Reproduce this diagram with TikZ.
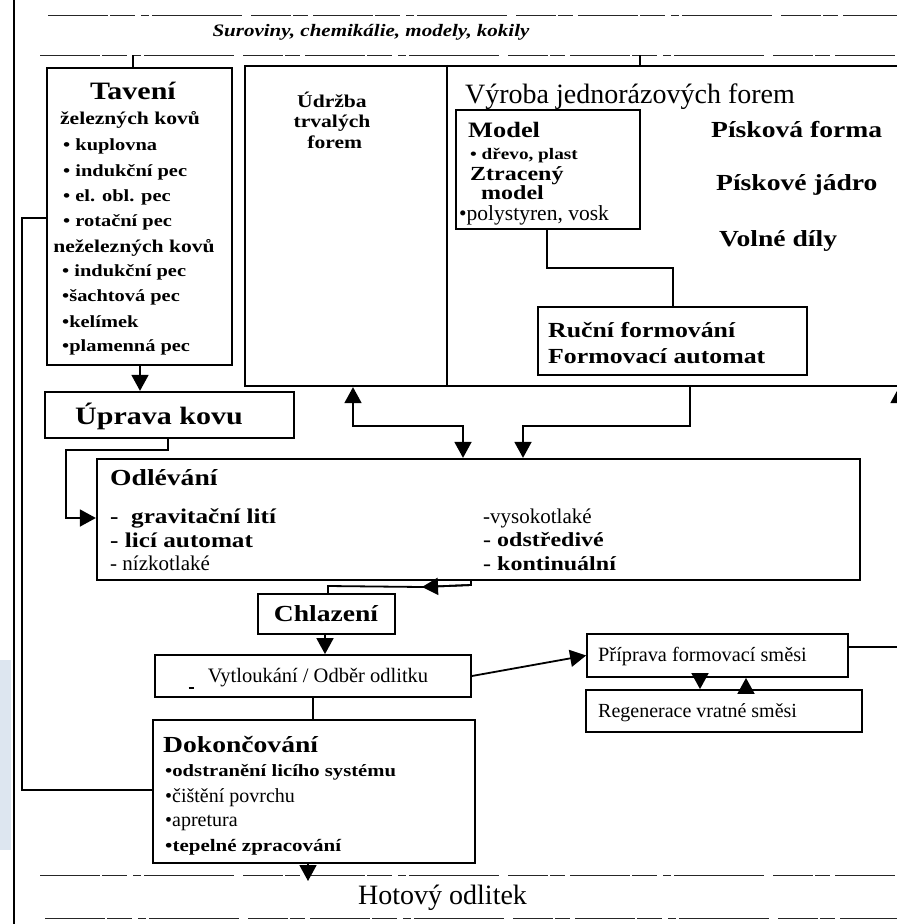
\documentclass[tikz,border=0pt]{standalone}
\usepackage{fontspec}
\setmainfont{Liberation Serif}
\newfontfamily\wb{Liberation Serif}[FakeStretch=1.2]
\usetikzlibrary{arrows.meta}
\newcommand\setfs[1]{\fontsize{#1}{#1}\selectfont}
\newcommand\mkbox[6][]{\node[box,#1, minimum width={(#5)-(#3)}, minimum height={(#6)-(#4)}] (#2) at ({((#3)+(#5))/2},{((#4)+(#6))/2}) {};}
\tikzset{
  box/.style={draw, line width=2.3pt, inner sep=0pt, rectangle},
  thinbox/.style={line width=1.8pt},
  conn/.style={line width=1.8pt},
  arr/.style={conn, -{Triangle[width=17pt,length=16pt]}},
  dline/.style={line width=0.9pt, black!85, dash pattern=on 60pt off 2pt on 25pt off 6pt on 8pt off 3pt on 90pt off 9pt on 40pt off 2pt on 15pt off 5pt},
  txt/.style={inner sep=0pt, anchor=west},
  ctxt/.style={inner sep=0pt},
  bw/.style={font={\wb\bfseries\setfs{#1}}},
  rg/.style={font={\setfs{#1}}},
}
\begin{document}
\begin{tikzpicture}[x=1pt,y=-1pt]
\useasboundingbox (0,0) rectangle (897,924);
\fill[white] (0,0) rectangle (897,924);
% scan strip and margin lines
\fill[fill={rgb,255:red,221;green,230;blue,240}] (0,660) rectangle (11,850);
\draw[line width=2pt] (14,0) -- (14,924);
\draw[dline] (48,15) -- (897,15);
\draw[dline] (40,55) -- (897,55);
\draw[dline] (40,875) -- (897,875);
\draw[dline] (45,918) -- (897,918);

% boxes
\mkbox{tav}{47}{68}{232}{365}
\mkbox{big}{245}{66}{910}{386}
\mkbox{model}{456}{110}{640}{229}
\mkbox{rucni}{538}{307}{807}{375}
\mkbox{uprava}{45}{392}{294}{438}
\mkbox{odl}{97}{459}{860}{580}
\mkbox{chl}{258}{594}{395}{634}
\mkbox[thinbox]{vyt}{155}{655}{471}{697}
\mkbox[thinbox]{prip}{587}{634}{848}{677}
\mkbox[thinbox]{reg}{586}{690}{862}{732}
\mkbox{dok}{153}{720}{475}{863}

% texts
\node[ctxt, font={\wb\bfseries\itshape\setfs{17.5}}] (sur) at (371,32) {Suroviny, chemikálie, modely, kokily};

\node[ctxt, bw=25] (tTav) at (133,91) {Tavení};
\node[ctxt, bw=18] (tZel) at (130,120) {železných kovů};
\node[txt, bw=17] (t1) at (63,146) {• kuplovna};
\node[txt, bw=17] (t2) at (63,172) {• indukční pec};
\node[txt, bw=17] (t3) at (63,197) {• el. obl. pec};
\node[txt, bw=17] (t4) at (63,222) {• rotační pec};
\node[ctxt, bw=18] (tNez) at (134,248) {neželezných kovů};
\node[txt, bw=17] (t5) at (62,272) {• indukční pec};
\node[txt, bw=17] (t6) at (62,297) {•šachtová pec};
\node[txt, bw=17] (t7) at (62,322) {•kelímek};
\node[txt, bw=17] (t8) at (62,347) {•plamenná pec};

\node[ctxt, align=center, font={\wb\bfseries\fontsize{18}{20.5}\selectfont}] (udr) at (332,120) {Údržba\\trvalých\\\ forem};

\node[txt, rg=28] (vyr) at (465,97) {Výroba jednorázových forem};
\node[txt, bw=22] (tMod) at (468,130) {Model};
\node[txt, bw=16] (tDrevo) at (470,156) {• dřevo, plast};
\node[inner sep=0pt, anchor=north west, align=left, font={\wb\bfseries\fontsize{20}{15}\selectfont}] (tZtr) at (470,166) {Ztracený\\\hspace{11pt}model};
\node[txt, rg=21.5] (tPoly) at (459,215) {•polystyren, vosk};

\node[txt, bw=23] (tPf) at (711,130) {Písková forma};
\node[txt, bw=23] (tPj) at (716,185) {Pískové jádro};
\node[txt, bw=23] (tVd) at (719,241) {Volné díly};

\node[txt, bw=21.5] (tRuc) at (548,330) {Ruční formování};
\node[txt, bw=21.5] (tFa) at (548,356) {Formovací automat};

\node[txt, bw=25] (tUpr) at (75,416) {Úprava kovu};

\node[txt, bw=23] (tOdl) at (110,478) {Odlévání};
\node[txt, bw=21] (o1t) at (110,518) {-\ \ gravitační lití};
\node[txt, bw=21] (o2t) at (110,540) {- licí automat};
\node[txt, rg=21] (o3t) at (110,563) {- nízkotlaké};
\node[txt, rg=21] (o4t) at (483,518) {-vysokotlaké};
\node[txt, bw=20] (o5t) at (483,540) {- odstředivé};
\node[txt, bw=20] (o6t) at (483,564) {- kontinuální};

\node[ctxt, bw=23] (tChl) at (326,614) {Chlazení};
\node[ctxt, rg=20.5] (tVyt) at (318,678) {Vytloukání / Odběr odlitku};
\node[inner sep=0pt] (us) at (191,688) {\rule{5pt}{1.5pt}};
\node[txt, rg=20.3] (tPrip) at (598,657) {Příprava formovací směsi};
\node[txt, rg=20] (tReg) at (598,713) {Regenerace vratné směsi};

\node[txt, bw=23] (tDok) at (163,744) {Dokončování};
\node[txt, bw=17.2] (d1) at (165,772) {•odstranění licího systému};
\node[txt, rg=20] (d2) at (165,798) {•čištění povrchu};
\node[txt, rg=20] (d3) at (165,823) {•apretura};
\node[txt, bw=17.5] (d4) at (165,847) {•tepelné zpracování};

\node[txt, rg=28] (hot) at (358,898) {Hotový odlitek};

% connectors
\coordinate (topL) at (133,55);
\coordinate (topR) at (640,55);
\draw[conn] (topL) -- (tav.north -| topL);
\draw[conn] (topR) -- (big.north -| topR);
\coordinate (div) at (447,0);
\draw[line width=2.3pt] (big.north -| div) -- (big.south -| div);

\coordinate (m1) at (547,268);
\coordinate (m2) at (673,268);
\draw[conn] (model.south -| m1) -- (m1) -- (m2) -- (rucni.north -| m2);

\coordinate (c1) at (140,0);
\draw[arr] (tav.south -| c1) -- (uprava.north -| c1);

\coordinate (u1) at (168,450);
\coordinate (u2) at (66,450);
\coordinate (u3) at (66,518);
\draw[arr] (uprava.south -| u1) -- (u1) -- (u2) -- (u3) -- (odl.west |- u3);

\coordinate (a1) at (353,426);
\coordinate (a2) at (463,426);
\draw[conn, {Triangle[width=17pt,length=16pt]}-{Triangle[width=17pt,length=16pt]}] (big.south -| a1) -- (a1) -- (a2) -- (odl.north -| a2);

\coordinate (b1) at (690,426);
\coordinate (b2) at (523,426);
\draw[arr] (big.south -| b1) -- (b1) -- (b2) -- (odl.north -| b2);

\coordinate (o1) at (471,585);
\coordinate (o2) at (422,587);
\coordinate (o3) at (328,586);
\draw[conn] (odl.south -| o1) -- (o1) -- (o2) -- (o3) -- (chl.north -| o3);
\draw[arr] (o1) -- (o2);

\coordinate (c2) at (325,0);
\draw[arr] (chl.south -| c2) -- (vyt.north -| c2);

\draw[conn, -{Triangle[width=17pt,length=16pt]}] (vyt.east) -- (prip.west);

\coordinate (p1) at (700,0);
\coordinate (p2) at (746,0);
\draw[arr] (prip.south -| p1) -- (reg.north -| p1);
\draw[arr] (reg.north -| p2) -- (prip.south -| p2);

\coordinate (r1) at (899,647);
\draw[arr] (prip.east |- r1) -- (r1) -- (big.south -| r1);

\coordinate (v1) at (313,0);
\draw[conn] (vyt.south -| v1) -- (dok.north -| v1);

\coordinate (l1) at (22,790);
\coordinate (l2) at (22,218);
\draw[conn] (dok.west |- l1) -- (l1) -- (l2) -- (tav.west |- l2);

\coordinate (h2) at (308,881);
\draw[arr] (dok.south -| h2) -- (h2);
\end{tikzpicture}
\end{document}
